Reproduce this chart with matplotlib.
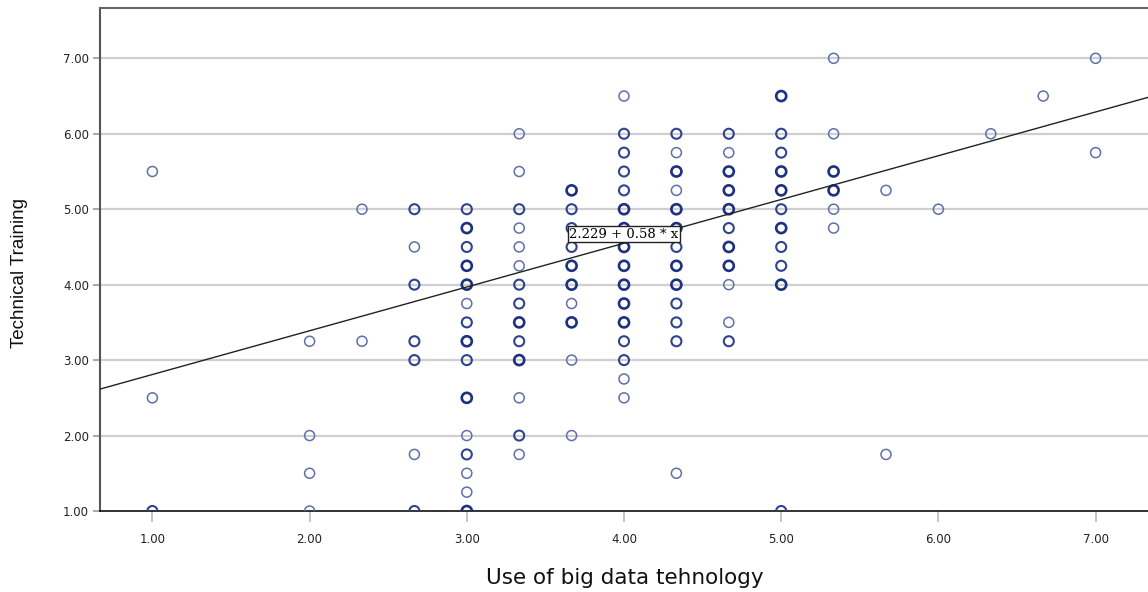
import matplotlib
matplotlib.use("Agg")
import matplotlib.pyplot as plt
import numpy as np

# x values are thirds, y values are quarters; count = number of overlapping cases (estimated from boldness)
col_x = [1.0, 2.0, 7/3, 8/3, 3.0, 10/3, 11/3, 4.0, 13/3, 14/3, 5.0, 16/3, 17/3, 6.0, 19/3, 20/3, 7.0]

col_y = [
    [5.5, 2.5, 1.0],
    [3.25, 2.0, 1.5, 1.0],
    [5.0, 3.25],
    [5.0, 4.5, 4.0, 3.25, 3.0, 1.75, 1.0],
    [5.0, 4.75, 4.5, 4.25, 4.0, 3.75, 3.5, 3.25, 3.0, 2.5, 2.0, 1.75, 1.5, 1.25, 1.0],
    [6.0, 5.5, 5.0, 4.75, 4.5, 4.25, 4.0, 3.75, 3.5, 3.25, 3.0, 2.5, 2.0, 1.75],
    [5.25, 5.0, 4.75, 4.5, 4.25, 4.0, 3.75, 3.5, 3.0, 2.0],
    [6.5, 6.0, 5.75, 5.5, 5.25, 5.0, 4.75, 4.5, 4.25, 4.0, 3.75, 3.5, 3.25, 3.0, 2.75, 2.5],
    [6.0, 5.75, 5.5, 5.25, 5.0, 4.75, 4.5, 4.25, 4.0, 3.75, 3.5, 3.25, 1.5],
    [6.0, 5.75, 5.5, 5.25, 5.0, 4.75, 4.5, 4.25, 4.0, 3.5, 3.25],
    [6.5, 6.0, 5.75, 5.5, 5.25, 5.0, 4.75, 4.5, 4.25, 4.0, 1.0],
    [7.0, 6.0, 5.5, 5.25, 5.0, 4.75],
    [5.25, 1.75],
    [5.0],
    [6.0],
    [6.5],
    [7.0, 5.75],
]

col_n = [
    [1, 1, 2],
    [1, 1, 1, 1],
    [1, 1],
    [2, 1, 2, 2, 2, 1, 2],
    [2, 3, 2, 3, 3, 1, 2, 3, 2, 3, 1, 2, 1, 1, 3],
    [1, 1, 2, 1, 1, 1, 2, 2, 3, 2, 3, 1, 2, 1],
    [3, 2, 2, 2, 3, 3, 1, 3, 1, 1],
    [1, 2, 2, 2, 2, 3, 3, 3, 3, 3, 3, 3, 2, 2, 1, 1],
    [2, 1, 3, 1, 3, 3, 2, 3, 3, 2, 2, 2, 1],
    [2, 1, 3, 3, 3, 2, 3, 3, 1, 1, 2],
    [3, 2, 2, 3, 3, 2, 3, 2, 2, 3, 2],
    [1, 1, 3, 3, 1, 1],
    [1, 1],
    [1],
    [1],
    [1],
    [1, 1],
]

intercept = 2.229
slope = 0.58
fit_label = "2.229 + 0.58 * x"

xticks = [1, 2, 3, 4, 5, 6, 7]
yticks = [1, 2, 3, 4, 5, 6, 7]
x_title = "Use of big data tehnology"
y_title = "Technical Training"

xs, ys, ns = [], [], []
for x, yl, nl in zip(col_x, col_y, col_n):
    for y, n in zip(yl, nl):
        xs.append(x)
        ys.append(y)
        ns.append(n)
xs = np.array(xs)
ys = np.array(ys)
ns = np.array(ns)

fig = plt.figure(figsize=(11.48, 5.92), dpi=100)
ax = fig.add_axes([100/1148, 1 - 511/592, 1048/1148, 503/592])

ax.set_xlim(2/3, 22/3)
ax.set_ylim(1.0, 7.667)

for yt in yticks[1:]:
    ax.axhline(yt, color="#cfcfcf", lw=1.6, zorder=0)

styles = {1: ("#5f70aa", 1.1), 2: ("#2f4390", 1.5), 3: ("#1c3180", 1.9)}
for n, (col, lw) in styles.items():
    m = ns == n
    sc = ax.scatter(xs[m], ys[m], s=52, facecolors="none", edgecolors=col,
                    linewidths=lw, zorder=3)
    sc.set_clip_path(ax.patch)

lx = np.array(ax.get_xlim())
ax.plot(lx, intercept + slope * lx, color="#222222", lw=1.0, zorder=4)

ax.text(4.0, 4.67, fit_label, ha="center", va="center", fontsize=9.5,
        family="DejaVu Serif", zorder=5,
        bbox=dict(boxstyle="square,pad=0.12", fc="white", ec="#222222", lw=1.0))

ax.set_xticks(xticks)
ax.set_yticks(yticks)
ax.set_xticklabels([f"{v:.2f}" for v in xticks], fontsize=8.5, color="#222222")
ax.set_yticklabels([f"{v:.2f}" for v in yticks], fontsize=8.5, color="#222222")
ax.tick_params(axis="x", length=8, width=1.2, color="#bbbbbb", pad=8)
ax.tick_params(axis="y", length=5, width=1.2, color="#999999", pad=3)

ax.spines["right"].set_visible(False)
ax.spines["left"].set_color("#555555")
ax.spines["left"].set_linewidth(1.5)
ax.spines["top"].set_color("#666666")
ax.spines["top"].set_linewidth(1.5)
ax.spines["bottom"].set_color("#111111")
ax.spines["bottom"].set_linewidth(1.2)

fig.text(625/1148, 1 - 578/592, x_title, ha="center", va="center", fontsize=15.5,
         family="DejaVu Sans", color="#111111")
fig.text(20/1148, 1 - 273/592, y_title, ha="center", va="center", fontsize=13.5,
         rotation=90, family="Liberation Sans", color="#111111")

fig.savefig("out.png", dpi=100)
